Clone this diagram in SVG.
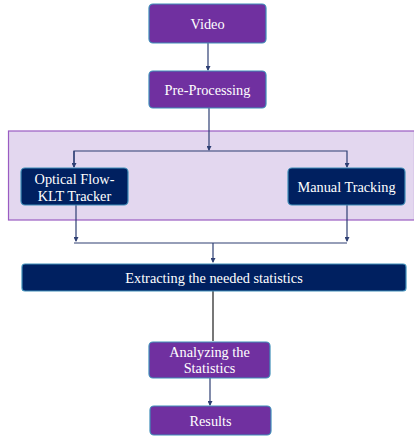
<svg xmlns="http://www.w3.org/2000/svg" width="414" height="436" viewBox="0 0 414 436">
<style>
.p{fill:#7030A0;stroke:#3E8EB8;stroke-width:1.2}
.n{fill:#002060;stroke:#3E8EB8;stroke-width:1.2}
.c{fill:none;stroke:#2E3F73;stroke-width:1.2}
.g{fill:none;stroke:#555;stroke-width:1.6}
</style>
<defs>
<marker id="a" markerWidth="5" markerHeight="5" refX="4" refY="2.5" orient="auto" markerUnits="userSpaceOnUse">
<path d="M0,0 L5,2.5 L0,5 Z" fill="#2E3F73"/>
</marker>
</defs>
<rect x="0" y="0" width="414" height="436" fill="#fff"/>
<rect id="region" x="8.5" y="131" width="406" height="89" fill="#E3D7EF" stroke="#9A5CC2" stroke-width="1.2"/>
<g id="connectors">
<line class="c" x1="208" y1="43" x2="208" y2="70" marker-end="url(#a)"/>
<line class="c" x1="209" y1="108" x2="209" y2="150" marker-end="url(#a)"/>
<polyline class="c" points="74,167 74,151 347,151 347,167" marker-end="url(#a)"/>
<line class="c" x1="74" y1="151" x2="74" y2="167" marker-end="url(#a)"/>
<line class="c" x1="76" y1="205" x2="76" y2="241" marker-end="url(#a)"/>
<line class="c" x1="347" y1="205" x2="347" y2="241" marker-end="url(#a)"/>
<polyline class="c" points="74,243 347,243"/>
<line class="c" x1="213" y1="243" x2="213" y2="262" marker-end="url(#a)"/>
<line class="g" x1="213" y1="291" x2="213" y2="341"/>
<line class="c" x1="210" y1="378" x2="210" y2="405" marker-end="url(#a)"/>
</g>
<g font-family="Liberation Serif, Times New Roman, serif" font-size="14.3" fill="#fff" text-anchor="middle">
<g id="video"><rect class="p" x="149" y="4" width="117" height="39" rx="4"/><text x="207.5" y="28.5">Video</text></g>
<g id="preprocessing"><rect class="p" x="149" y="71" width="117" height="37" rx="4"/><text x="207.5" y="94.5">Pre-Processing</text></g>
<g id="optical"><rect class="n" x="21" y="168" width="107" height="37" rx="4"/><text x="74.5" y="184">Optical Flow-</text><text x="74.5" y="200.5">KLT Tracker</text></g>
<g id="manual"><rect class="n" x="288" y="168" width="117" height="37" rx="4"/><text x="346.5" y="191.5">Manual Tracking</text></g>
<g id="extracting"><rect class="n" x="22" y="264" width="384" height="27" rx="3"/><text x="214" y="282.5">Extracting the needed statistics</text></g>
<g id="analyzing"><rect class="p" x="149" y="342" width="121" height="36" rx="4"/><text x="209.5" y="357">Analyzing the</text><text x="209.5" y="372.5">Statistics</text></g>
<g id="results"><rect class="p" x="150" y="406" width="121" height="29" rx="4"/><text x="210.5" y="425.5">Results</text></g>
</g>
</svg>
